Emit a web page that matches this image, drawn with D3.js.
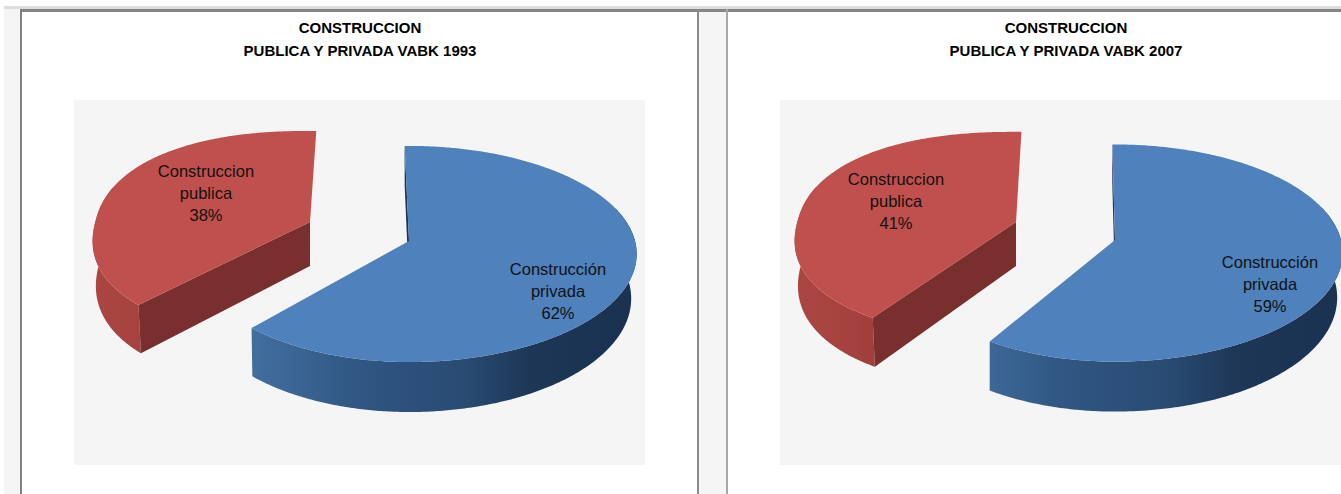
<!DOCTYPE html>
<html><head><meta charset="utf-8">
<style>html,body{margin:0;padding:0;background:#fff;overflow:hidden}svg{display:block}</style>
<script src="https://cdn.jsdelivr.net/npm/d3@7"></script></head>
<body><svg id="c" width="1341" height="494"></svg>
<script>
const categories = ["Construcción privada", "Construccion publica"];
const labelLines = [["Construcción", "privada"], ["Construccion", "publica"]];
const values1993 = [62, 38];
const values2007 = [59, 41];
const titleTop = "CONSTRUCCION";
const titles = ["PUBLICA Y PRIVADA VABK 1993", "PUBLICA Y PRIVADA VABK 2007"];

const W = 1341, H = 494;
const svg = d3.select("#c");
const defs = svg.append("defs");

function hGrad(id, x0, x1, stops) {
  const g = defs.append("linearGradient").attr("id", id).attr("gradientUnits", "userSpaceOnUse")
    .attr("x1", x0).attr("x2", x1).attr("y1", 0).attr("y2", 0);
  stops.forEach(s => g.append("stop").attr("offset", s[0]).attr("stop-color", s[1]));
}

function rect(x, y, w, h, fill) { svg.append("rect").attr("x", x).attr("y", y).attr("width", w).attr("height", h).attr("fill", fill); }

// page frame
rect(0, 0, W, H, "#ffffff");
rect(4, 6, W - 4, H - 6, "#f5f5f5");
rect(4, 6, W - 4, 3, "#dddddd");
rect(20, 9, W - 20, 3, "#858585");
rect(22, 12, 675, H - 12, "#ffffff");
rect(728, 12, W - 728, H - 12, "#ffffff");
rect(20, 9, 2, H - 9, "#808080");
rect(697, 9, 2, H - 9, "#8c8c8c");
rect(726, 9, 2, H - 9, "#a8a8a8");

const P = 0.12;             // perspective strength
const DEPTH = 44;           // wall height
const plane = d3.scaleLinear().domain([-1, 1]);

function projector(o) {
  const px = plane.copy().range([-o.R, o.R]);
  const py = plane.copy().range([-o.K, o.K]);
  const rot = o.rot * Math.PI / 180;
  const e = 2 / o.n;
  const pow = x => Math.sign(x) * Math.pow(Math.abs(x), e);
  return function (theta, r, low) {
    const t = theta + rot;
    const u = r * pow(Math.sin(t)), v = -r * pow(Math.cos(t));
    const s = 1 / (1 - P * v);
    let X = px(u) * s * (u < 0 ? o.left : 1);
    let Y = py(v) * s;
    if (low) { X *= (u < 0 ? o.lowL : o.lowR); Y += DEPTH * s; }
    return [o.ax + X, o.ay + Y];
  };
}

const line = d3.line().curve(d3.curveLinear);
const pie = d3.pie().sort(null).value(d => d);

function drawChart(cfg, values) {
  const arcs = pie(values);
  const id = cfg.id;
  hGrad(id + "blueWall", cfg.blue.ax - 160, cfg.blue.ax + 229, [[0, "#426fa0"], [0.3, "#2f5581"], [0.55, "#294b73"], [0.72, "#1e3757"], [1, "#1a3150"]]);
  hGrad(id + "redWall", cfg.red.ax - 225, cfg.red.ax - 120, [[0, "#ab4643"], [0.6, "#a5413e"], [1, "#9b3b38"]]);

  rect(cfg.plot[0], cfg.plot[1], cfg.plot[2], cfg.plot[3], "#f5f5f5");

  const tg = svg.append("g").attr("text-anchor", "middle")
    .attr("font-family", "Liberation Sans, Arial, sans-serif").attr("font-weight", "bold")
    .attr("font-size", 15).attr("fill", "#000");
  tg.append("text").attr("x", cfg.titleX).attr("y", 33).text(titleTop);
  tg.append("text").attr("x", cfg.titleX).attr("y", 56).text(cfg.title);

  const sp = [
    { a: arcs[1], o: cfg.red, top: "#c0504d", wall: `url(#${id}redWall)`, face: "#792f2d", faceEnd: true },
    { a: arcs[0], o: cfg.blue, top: "#4f81bd", wall: `url(#${id}blueWall)`, face: "#1c3350", faceStart: true }
  ];
  sp.forEach(d => {
    const f = projector(d.o);
    const g = svg.append("g");
    const ths = d3.range(d.a.startAngle, d.a.endAngle, 0.01).concat([d.a.endAngle]);
    const vis = ths.filter(t => -Math.cos(t) > -0.3);
    const wallPts = vis.map(t => f(t, 1, false)).concat(vis.slice().reverse().map(t => f(t, 1, true)));
    const a0 = d.a.startAngle;
    const facePts = [f(a0, 1, false), f(a0, 0, false), f(a0, 0, true), f(a0, 1, true)];
    if (d.faceStart) g.append("path").attr("d", line(facePts) + "Z").attr("fill", d.face);
    g.append("path").attr("d", line(wallPts) + "Z").attr("fill", d.wall);
    if (d.faceEnd) g.append("path").attr("d", line(facePts) + "Z").attr("fill", d.face);
    const topPts = [f(a0, 0, false)].concat(ths.map(t => f(t, 1, false)));
    g.append("path").attr("d", line(topPts) + "Z").attr("fill", d.top);
  });

  [cfg.blueLabel, cfg.redLabel].forEach((pos, i) => {
    const lines = labelLines[i].concat([values[i] + "%"]);
    const t = svg.append("text").attr("text-anchor", "middle")
      .attr("font-family", "Liberation Sans, Arial, sans-serif").attr("font-size", 16.5).attr("fill", "#111");
    lines.forEach((s, j) => t.append("tspan").attr("x", pos[0]).attr("y", pos[1] + j * 22).text(s));
  });
}

drawChart({
  id: "a", title: titles[0], titleX: 360, plot: [74, 100, 571, 365],
  blue: { ax: 409, ay: 241, R: 226, K: 106.5, rot: -1.3, left: 0.95, n: 2, lowL: 0.995, lowR: 0.976 },
  red: { ax: 310, ay: 222, R: 218, K: 102, rot: 1.2, left: 0.985, n: 2.25, lowL: 0.985, lowR: 0.976 }
  , blueLabel: [558, 275], redLabel: [206, 177]
}, values1993);

drawChart({
  id: "b", title: titles[1], titleX: 1066, plot: [780, 100, 561, 365],
  blue: { ax: 1115, ay: 240, R: 226, K: 107, rot: -0.8, left: 0.95, n: 2, lowL: 1, lowR: 0.976 },
  red: { ax: 1016, ay: 222, R: 222, K: 101, rot: 1, left: 0.985, n: 2.25, lowL: 0.985, lowR: 0.976 }
  , blueLabel: [1270, 268], redLabel: [896, 185]
}, values2007);
</script></body></html>
